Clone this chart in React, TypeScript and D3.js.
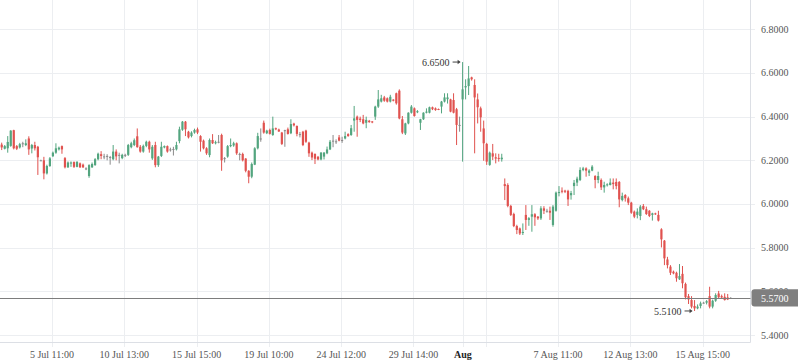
import React from 'react';
import * as d3 from 'd3';

const opens = [
  6.272,6.253,6.255,6.266,6.338,6.265,6.259,6.278,6.27,6.3, 6.254,6.27,6.262,6.2,6.2,6.14,6.174,6.219,6.235,6.25,
  6.265,6.21,6.168,6.185,6.192,6.17,6.186,6.18,6.163,6.128, 6.168,6.178,6.205,6.228,6.218,6.22,6.215,6.205,6.24,6.225,
  6.21,6.225,6.225,6.26,6.27,6.31,6.262,6.24,6.266,6.285,
  6.209,6.27,6.178,6.22,6.259,6.265,6.25,6.252,6.25,6.288, 6.34,6.377,6.331,6.311,6.327,6.342,6.311,6.29,6.255,6.224,
  6.293,6.278,6.285,6.316,6.21,6.217,6.265,6.268,6.278,6.229, 6.229,6.208,6.152,6.125,6.18,6.255,6.3,6.372,6.324,6.339,
  6.316,6.347,6.341,6.327,6.338,6.342,6.324,6.368,6.357,
  6.32,6.331,6.336,6.281,6.235,6.229,6.216,6.204,6.217,6.232, 6.25,6.29,6.287,6.305,6.293,6.3,6.32,6.316,6.382,6.4,
  6.391,6.388,6.372,6.381,6.378,6.4,6.446,6.469,6.488,6.484, 6.469,6.478,6.507,6.519,6.388,6.323,6.369,6.418,6.438,6.42,
  6.372,6.388,6.418,6.418,6.443,6.438,6.435,6.446,6.469,6.48, 6.479,6.476,6.434,6.362,6.479,
  6.534,6.54,6.58,6.545,6.479,6.438,6.346,6.275,6.179,6.232, 6.214,6.211,6.205,6.091,6.087,5.991,5.954,5.899,5.888,5.867,
  5.95,5.927,5.942,5.953,5.942,5.934,5.98,5.969,5.969,5.904, 5.969,6.05,6.061,6.061,6.06,6.04,6.082,6.098,6.11,6.156,
  6.163,6.143,6.153,6.128,6.11,
  6.11,6.076,6.087,6.087,6.098,6.101,6.101,6.018,6.041,6.026, 6.006,5.965,5.95,5.945,5.991,5.976,5.969,5.95,5.957,5.95,
  5.884,5.832,5.746,5.713,5.69,5.685,5.655,5.68,5.634,5.578, 5.56,5.533,5.522,5.533,5.548,5.548,5.578,5.53,5.557,5.59,
  5.578,5.575,5.572,5.57,
];
const highs = [
  6.281,6.27,6.311,6.338,6.34,6.27,6.28,6.285,6.296,6.31, 6.275,6.285,6.266,6.203,6.216,6.18,6.215,6.24,6.278,6.263,
  6.268,6.215,6.195,6.195,6.195,6.196,6.19,6.185,6.168,6.182, 6.19,6.21,6.235,6.242,6.23,6.228,6.22,6.27,6.25,6.235,
  6.23,6.23,6.275,6.285,6.3,6.346,6.27,6.272,6.29,6.29,
  6.27,6.285,6.22,6.285,6.268,6.268,6.258,6.262,6.285,6.354, 6.38,6.38,6.335,6.333,6.345,6.35,6.315,6.295,6.26,6.3,
  6.32,6.29,6.316,6.322,6.215,6.27,6.3,6.285,6.282,6.235, 6.235,6.21,6.155,6.19,6.26,6.326,6.346,6.382,6.34,6.345,
  6.4,6.35,6.345,6.33,6.34,6.35,6.388,6.372,6.36,
  6.33,6.335,6.34,6.285,6.24,6.232,6.22,6.238,6.238,6.263, 6.293,6.316,6.296,6.316,6.308,6.331,6.324,6.362,6.449,6.405,
  6.4,6.408,6.4,6.385,6.38,6.45,6.522,6.5,6.495,6.488, 6.5,6.48,6.51,6.525,6.403,6.372,6.42,6.453,6.442,6.43,
  6.39,6.42,6.438,6.446,6.446,6.442,6.437,6.472,6.507,6.507, 6.482,6.507,6.44,6.4,6.65,
  6.571,6.632,6.583,6.571,6.506,6.446,6.382,6.28,6.24,6.275, 6.232,6.23,6.23,6.117,6.095,5.996,5.96,5.905,5.892,5.911,
  5.995,5.94,5.995,5.958,5.945,5.99,5.99,5.978,5.988,5.995, 6.057,6.082,6.076,6.065,6.065,6.06,6.11,6.125,6.168,6.17,
  6.168,6.159,6.178,6.132,6.148,
  6.117,6.102,6.095,6.117,6.117,6.117,6.105,6.052,6.045,6.034, 6.01,5.97,5.98,5.995,6.0,5.988,5.972,5.96,5.96,5.969,
  5.889,5.835,5.758,5.72,5.695,5.69,5.725,5.716,5.64,5.588, 5.578,5.56,5.54,5.553,5.552,5.56,5.621,5.562,5.591,5.602,
  5.585,5.591,5.588,5.573,
];
const lows = [
  6.247,6.25,6.235,6.262,6.25,6.247,6.254,6.26,6.265,6.225, 6.232,6.245,6.133,6.198,6.113,6.135,6.17,6.215,6.23,6.245,
  6.23,6.163,6.165,6.17,6.165,6.168,6.165,6.165,6.155,6.12, 6.165,6.175,6.2,6.205,6.205,6.2,6.18,6.2,6.2,6.186,
  6.205,6.215,6.22,6.255,6.265,6.258,6.235,6.235,6.26,6.235,
  6.202,6.168,6.17,6.215,6.255,6.235,6.24,6.222,6.245,6.278, 6.335,6.311,6.3,6.305,6.322,6.32,6.24,6.25,6.225,6.214,
  6.275,6.273,6.278,6.152,6.19,6.212,6.26,6.262,6.225,6.2, 6.195,6.145,6.095,6.118,6.178,6.25,6.285,6.322,6.32,6.318,
  6.312,6.338,6.33,6.27,6.262,6.318,6.32,6.355,6.31,
  6.305,6.265,6.28,6.216,6.201,6.183,6.2,6.2,6.204,6.228, 6.247,6.26,6.275,6.287,6.28,6.296,6.308,6.312,6.331,6.308,
  6.375,6.365,6.347,6.372,6.37,6.385,6.44,6.465,6.468,6.465, 6.465,6.47,6.455,6.388,6.32,6.316,6.365,6.414,6.4,6.416,
  6.339,6.385,6.415,6.415,6.43,6.427,6.43,6.415,6.465,6.46, 6.42,6.415,6.27,6.331,6.194,
  6.479,6.499,6.565,6.232,6.369,6.331,6.198,6.179,6.175,6.201, 6.186,6.194,6.194,6.018,5.985,5.945,5.894,5.862,5.858,5.858,
  5.881,5.9,5.873,5.9,5.927,5.927,5.954,5.96,5.927,5.896, 5.965,6.035,6.049,6.05,5.991,6.02,6.041,6.082,6.105,6.15,
  6.125,6.128,6.15,6.072,6.095,
  6.064,6.052,6.08,6.085,6.067,6.067,5.985,6.012,6.011,5.995, 5.955,5.935,5.934,5.926,5.972,5.95,5.94,5.924,5.95,5.92,
  5.801,5.72,5.705,5.675,5.678,5.644,5.652,5.614,5.563,5.542, 5.522,5.51,5.518,5.522,5.544,5.54,5.522,5.522,5.552,5.568,
  5.568,5.558,5.56,5.568,
];
const closes = [
  6.259,6.265,6.284,6.336,6.255,6.253,6.274,6.278,6.278,6.25, 6.27,6.255,6.214,6.2,6.14,6.174,6.209,6.235,6.255,6.258,
  6.25,6.168,6.19,6.19,6.17,6.193,6.168,6.168,6.163,6.178, 6.183,6.205,6.23,6.22,6.218,6.22,6.215,6.24,6.218,6.225,
  6.225,6.225,6.27,6.278,6.292,6.26,6.24,6.266,6.285,6.25,
  6.262,6.178,6.217,6.262,6.265,6.24,6.25,6.252,6.27,6.342, 6.377,6.342,6.305,6.327,6.339,6.327,6.285,6.255,6.232,6.293,
  6.278,6.283,6.285,6.2,6.21,6.265,6.27,6.278,6.232,6.229, 6.2,6.152,6.125,6.183,6.255,6.311,6.3,6.327,6.336,6.321,
  6.346,6.342,6.332,6.275,6.338,6.321,6.366,6.36,6.321,
  6.32,6.27,6.285,6.232,6.213,6.207,6.204,6.235,6.235,6.25, 6.285,6.29,6.287,6.29,6.293,6.311,6.311,6.347,6.392,6.385,
  6.385,6.369,6.385,6.375,6.374,6.446,6.479,6.484,6.473,6.469, 6.491,6.473,6.461,6.392,6.327,6.369,6.418,6.446,6.403,6.425,
  6.388,6.418,6.423,6.443,6.434,6.43,6.432,6.469,6.488,6.488, 6.423,6.418,6.362,6.362,6.525,
  6.54,6.575,6.571,6.488,6.443,6.397,6.278,6.194,6.235,6.217, 6.208,6.207,6.212,6.082,5.991,5.95,5.899,5.881,5.865,5.872,
  5.927,5.935,5.953,5.939,5.934,5.98,5.969,5.969,5.96,5.988, 6.052,6.055,6.056,6.056,6.021,6.05,6.097,6.116,6.156,6.163,
  6.153,6.153,6.171,6.11,6.128,
  6.076,6.087,6.09,6.098,6.091,6.082,6.021,6.037,6.026,6.006, 5.96,5.942,5.965,5.988,5.976,5.954,5.945,5.957,5.954,5.924,
  5.838,5.751,5.72,5.685,5.682,5.66,5.67,5.637,5.573,5.563, 5.53,5.522,5.53,5.545,5.548,5.555,5.53,5.557,5.583,5.573,
  5.572,5.56,5.563,5.57,
];

const yTicks = [5.4, 5.6, 5.8, 6.0, 6.2, 6.4, 6.6, 6.8];
const xTickIdx = [16.7, 40.7, 64.7, 88.7, 112.7, 136.7, 160.7, 184.7, 208.7, 232.7];
const xTickLabels = ['5 Jul 11:00', '10 Jul 13:00', '15 Jul 15:00', '19 Jul 10:00', '24 Jul 12:00', '29 Jul 14:00', '', '7 Aug 11:00', '12 Aug 13:00', '15 Aug 15:00'];
const monthTickIdx = [153.1];
const monthTickLabels = ['Aug'];
const lastPrice = 5.57;

const W = 798;
const H = 363;
const PLOT_R = 750.5;
const PLOT_B = 342.5;
const UP = '#53a57f';
const DOWN = '#e0524f';
const FLAT = '#8a8a8a';
const GRID = '#eceef1';
const AXIS = '#dcdfe5';
const FONT = '"Liberation Serif", "Times New Roman", serif';

function Marker({ px, py, label }: { px: number; py: number; label: string }) {
  const ax1 = px - 10;
  const ax2 = px - 2;
  return (
    <g>
      <text x={ax1 - 3} y={py + 0.5} textAnchor="end" dominantBaseline="central" fontFamily={FONT} fontSize={10} fill="#333">
        {label}
      </text>
      <line x1={ax1} x2={ax2 - 1} y1={py} y2={py} stroke="#444" strokeWidth={1} />
      <path d={`M${ax2},${py} L${ax2 - 3},${py - 2.2} L${ax2 - 3},${py + 2.2} Z`} fill="#444" />
    </g>
  );
}

export default function App() {
  const n = closes.length;
  const x = d3.scaleLinear().domain([0, n - 1]).range([1.7, 730.7]);
  const y = d3.scaleLinear().domain([5.4, 6.8]).range([335, 29.3]);
  const bodyW = 2.2;

  const iMax = d3.maxIndex(highs);
  const iMin = d3.minIndex(lows);

  const lastY = y(lastPrice);

  return (
    <svg width={W} height={H} style={{ position: 'absolute', left: 0, top: 0, background: '#fff' }}>
      <rect x={0} y={0} width={W} height={H} fill="#fff" />
      {yTicks.map((t) => (
        <line key={'hg' + t} x1={0} x2={755} y1={Math.round(y(t)) + 0.5} y2={Math.round(y(t)) + 0.5} stroke={GRID} strokeWidth={1} />
      ))}
      {xTickIdx.map((t) => (
        <line key={'vg' + t} x1={Math.round(x(t)) + 0.5} x2={Math.round(x(t)) + 0.5} y1={0} y2={347} stroke={GRID} strokeWidth={1} />
      ))}
      {monthTickIdx.map((t) => (
        <line key={'mg' + t} x1={Math.round(x(t)) + 0.5} x2={Math.round(x(t)) + 0.5} y1={0} y2={347} stroke={GRID} strokeWidth={1} />
      ))}
      <line x1={PLOT_R} x2={PLOT_R} y1={0} y2={PLOT_B} stroke={AXIS} strokeWidth={1} />
      <line x1={0} x2={PLOT_R} y1={PLOT_B} y2={PLOT_B} stroke={AXIS} strokeWidth={1} />

      {closes.map((c, i) => {
        const o = opens[i];
        const col = c > o ? UP : c < o ? DOWN : FLAT;
        const cx = x(i);
        const top = y(Math.max(o, c));
        const bot = y(Math.min(o, c));
        return (
          <g key={'c' + i}>
            <rect x={cx - 0.5} y={y(highs[i])} width={1} height={Math.max(1, y(lows[i]) - y(highs[i]))} fill={col} />
            <rect x={cx - bodyW / 2} y={top} width={bodyW} height={Math.max(1, bot - top)} fill={col} />
          </g>
        );
      })}

      <line x1={0} x2={PLOT_R} y1={Math.round(lastY) + 0.5} y2={Math.round(lastY) + 0.5} stroke="#7d7d7d" strokeWidth={1} />

      {yTicks.map((t) => (
        <text key={'yl' + t} x={761} y={y(t)} dominantBaseline="central" fontFamily={FONT} fontSize={10} fill="#555">
          {t.toFixed(4)}
        </text>
      ))}

      <rect x={751.5} y={lastY - 8.7} width={52} height={17.4} rx={3} fill="#7f7f7f" />
      <text x={761} y={lastY + 0.3} dominantBaseline="central" fontFamily={FONT} fontSize={10} fill="#fff">
        {lastPrice.toFixed(4)}
      </text>

      {xTickIdx.map((t, k) => (
        <text key={'xl' + t} x={x(t)} y={354} textAnchor="middle" dominantBaseline="central" fontFamily={FONT} fontSize={10} fill="#555">
          {xTickLabels[k]}
        </text>
      ))}
      {monthTickIdx.map((t, k) => (
        <text key={'ml' + t} x={x(t)} y={354} textAnchor="middle" dominantBaseline="central" fontFamily={FONT} fontSize={10} fontWeight="bold" fill="#222">
          {monthTickLabels[k]}
        </text>
      ))}

      <Marker px={x(iMax)} py={y(highs[iMax])} label={highs[iMax].toFixed(4)} />
      <Marker px={x(iMin)} py={y(lows[iMin])} label={lows[iMin].toFixed(4)} />
    </svg>
  );
}
